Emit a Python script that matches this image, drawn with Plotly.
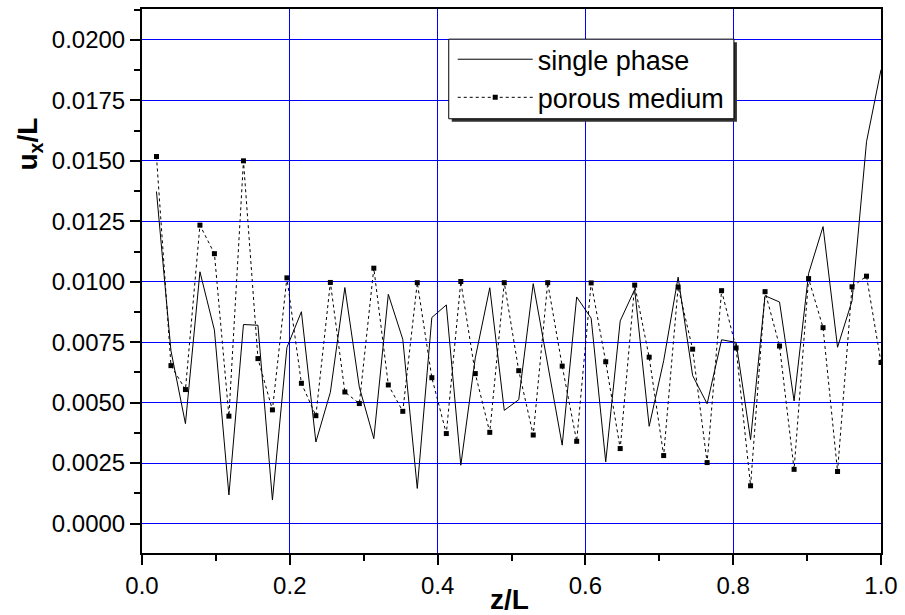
import plotly.graph_objects as go

# z/L positions (51 equally spaced samples)
z = [0.0196, 0.0392, 0.0588, 0.0784, 0.0980, 0.1176, 0.1373, 0.1569, 0.1765, 0.1961,
     0.2157, 0.2353, 0.2549, 0.2745, 0.2941, 0.3137, 0.3333, 0.3529, 0.3725, 0.3922,
     0.4118, 0.4314, 0.4510, 0.4706, 0.4902, 0.5098, 0.5294, 0.5490, 0.5686, 0.5882,
     0.6078, 0.6275, 0.6471, 0.6667, 0.6863, 0.7059, 0.7255, 0.7451, 0.7647, 0.7843,
     0.8039, 0.8235, 0.8431, 0.8627, 0.8824, 0.9020, 0.9216, 0.9412, 0.9608, 0.9804,
     1.0000]

single_phase = [0.01373, 0.00714, 0.00413, 0.01041, 0.00800, 0.00118, 0.00823, 0.00820, 0.00097, 0.00728,
                0.00876, 0.00337, 0.00543, 0.00976, 0.00564, 0.00351, 0.00948, 0.00762, 0.00145, 0.00852,
                0.00904, 0.00241, 0.00685, 0.00975, 0.00468, 0.00512, 0.00992, 0.00658, 0.00324, 0.00937,
                0.00849, 0.00255, 0.00838, 0.00968, 0.00402, 0.00673, 0.01019, 0.00612, 0.00495, 0.00760,
                0.00749, 0.00347, 0.00942, 0.00916, 0.00507, 0.01034, 0.01228, 0.00729, 0.00921, 0.01579,
                0.01877]

porous_medium = [0.01518, 0.00653, 0.00554, 0.01234, 0.01116, 0.00444, 0.01500, 0.00682, 0.00470, 0.01016,
                 0.00580, 0.00446, 0.00997, 0.00544, 0.00496, 0.01056, 0.00573, 0.00464, 0.00996, 0.00603,
                 0.00372, 0.01001, 0.00620, 0.00377, 0.00996, 0.00632, 0.00366, 0.00996, 0.00651, 0.00340,
                 0.00995, 0.00669, 0.00310, 0.00986, 0.00688, 0.00281, 0.00978, 0.00721, 0.00252, 0.00963,
                 0.00726, 0.00156, 0.00959, 0.00734, 0.00224, 0.01013, 0.00810, 0.00215, 0.00979, 0.01023,
                 0.00666]

FONT = "Arial, 'Liberation Sans', sans-serif"

fig = go.Figure()
fig.add_trace(go.Scatter(x=z, y=single_phase, mode="lines", name="single phase",
                         line=dict(color="black", width=1)))
fig.add_trace(go.Scatter(x=z, y=porous_medium, mode="lines+markers", name="porous medium",
                         line=dict(color="black", width=1, dash="dot"),
                         marker=dict(symbol="square", size=5, color="black")))

axis_common = dict(showline=True, linecolor="black", linewidth=2, mirror=True,
                   ticks="outside", ticklen=10, tickwidth=2, tickcolor="black",
                   showgrid=True, gridcolor="#0000ff", gridwidth=1, zeroline=False,
                   tickfont=dict(family=FONT, size=24, color="black"))

fig.update_xaxes(range=[0, 1.0], tick0=0, dtick=0.2, tickformat=".1f",
                 minor=dict(dtick=0.1, ticklen=6, tickwidth=2, tickcolor="black", ticks="outside", showgrid=False),
                 **axis_common)
fig.update_yaxes(range=[-0.00122, 0.02128], tick0=0, dtick=0.0025, tickformat=".4f",
                 minor=dict(dtick=0.00125, ticklen=6, tickwidth=2, tickcolor="black", ticks="outside", showgrid=False),
                 **axis_common)


def px_x(px):
    return (px - 142.3) / 743.7


def px_y(py):
    return (553.3 - py) / 546.6


# legend frame with drop shadow (drawn as shapes; the legend itself is transparent)
fig.add_shape(type="rect", xref="paper", yref="paper",
              x0=px_x(454), x1=px_x(741), y0=px_y(120), y1=px_y(40),
              fillcolor="#303030", line=dict(width=0), layer="above")
fig.add_shape(type="rect", xref="paper", yref="paper",
              x0=px_x(451), x1=px_x(738), y0=px_y(117), y1=px_y(37),
              fillcolor="white", line=dict(color="black", width=1), layer="above")

fig.update_layout(
    width=905, height=615,
    margin=dict(l=142, r=19, t=7, b=62),
    paper_bgcolor="white", plot_bgcolor="white",
    font=dict(family=FONT, color="black"),
    showlegend=True,
    legend=dict(x=px_x(455), y=px_y(33), xanchor="left", yanchor="top",
                bgcolor="rgba(0,0,0,0)", borderwidth=0,
                font=dict(family=FONT, size=27, color="black"),
                itemwidth=75, tracegroupgap=0),
    annotations=[
        dict(text="<b>z/L</b>", xref="paper", yref="paper", x=0.497, y=px_y(600),
             xanchor="center", yanchor="middle", showarrow=False,
             font=dict(family=FONT, size=28, color="black")),
        dict(text="<b>u<sub>x</sub>/L</b>", xref="paper", y=0.0157, yref="y",
             x=-0.152, xanchor="center", yanchor="middle", textangle=-90, showarrow=False,
             font=dict(family=FONT, size=28, color="black")),
    ],
)

fig.write_html("out.html")
